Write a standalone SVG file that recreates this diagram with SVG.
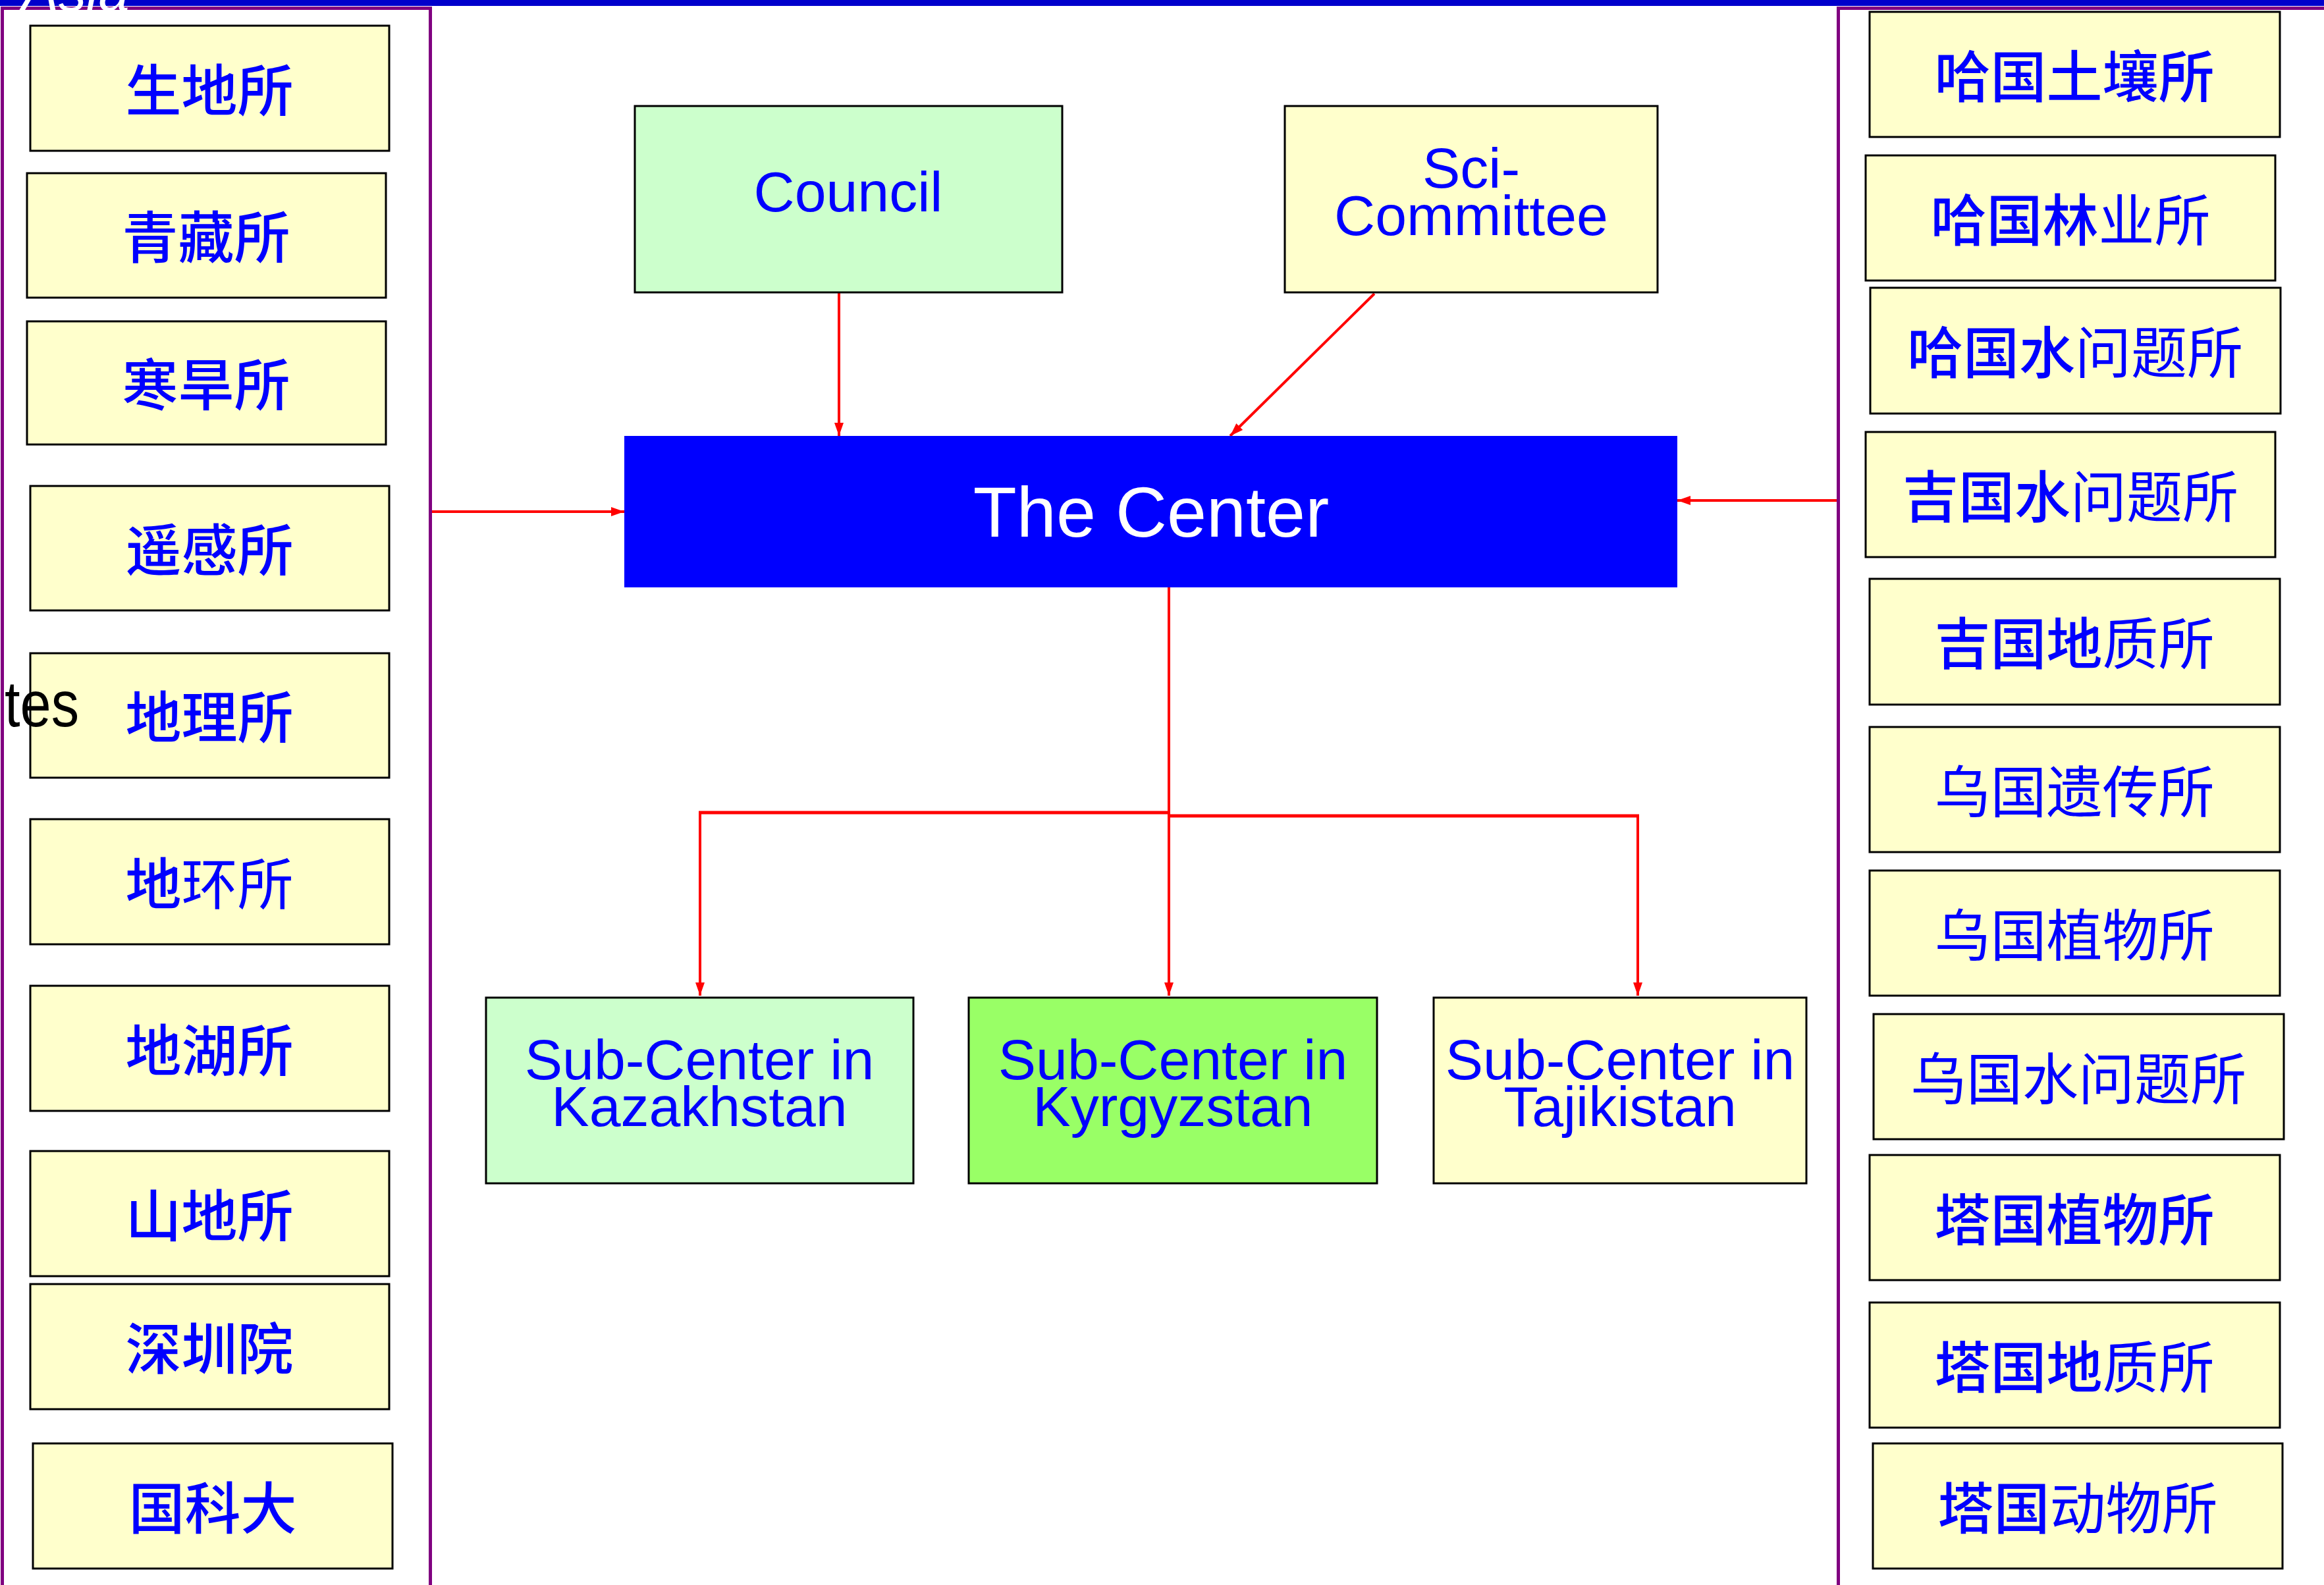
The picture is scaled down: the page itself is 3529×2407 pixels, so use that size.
<svg xmlns="http://www.w3.org/2000/svg" width="3529" height="2407" viewBox="0 0 3529 2407">
<style>
.bg{fill:#ffffff}
.band{fill:#0000CC}
.frame{fill:none;stroke:#800080;stroke-width:5}
.inst{fill:#FFFFCC;stroke:#000000;stroke-width:3}
.green{fill:#CCFFCC;stroke:#000000;stroke-width:3}
.lime{fill:#99FF66;stroke:#000000;stroke-width:3}
.center{fill:#0000FF}
.cjk{font-family:"Noto Sans CJK SC","Noto Sans CJK TC",sans-serif;font-size:85px;fill:#0000FF;text-anchor:middle}
.b{font-weight:500}
.n{font-weight:normal}
.lat{font-family:"Liberation Sans",Arial,sans-serif;font-size:86px;fill:#0000FF;text-anchor:middle}
.conn{stroke:#FF0000;stroke-width:4;fill:none}
.thick{stroke:#FF0000;stroke-width:5;fill:none}
</style>
<defs>
<marker id="ah" markerUnits="userSpaceOnUse" viewBox="0 0 20 14" refX="20" refY="7" markerWidth="20" markerHeight="14" orient="auto">
<path d="M0,0 L20,7 L0,14 z" fill="#FF0000"/>
</marker>
</defs>
<rect class="bg" x="0" y="0" width="3529" height="2407"/>
<rect class="band" x="0" y="0" width="3529" height="9"/>
<rect class="frame" x="3.5" y="12.5" width="650" height="2500"/>
<rect class="frame" x="2791.5" y="12.5" width="900" height="2500"/>
<text x="33" y="16" font-family="'Liberation Sans',Arial,sans-serif" font-style="italic" font-size="84" fill="#ffffff">Asia</text>

<g id="connectors">
<line class="conn" x1="1274" y1="444" x2="1274" y2="662" marker-end="url(#ah)"/>
<line class="conn" x1="2087" y1="446" x2="1868" y2="662" marker-end="url(#ah)"/>
<line class="conn" x1="656" y1="777" x2="948" y2="777" marker-end="url(#ah)"/>
<line class="conn" x1="2789" y1="760" x2="2547" y2="760" marker-end="url(#ah)"/>
<line class="conn" x1="1775" y1="892" x2="1775" y2="1512" marker-end="url(#ah)"/>
<line class="thick" x1="1775" y1="1234" x2="1061" y2="1234"/>
<line class="conn" x1="1063" y1="1232" x2="1063" y2="1512" marker-end="url(#ah)"/>
<line class="thick" x1="1775" y1="1239" x2="2489" y2="1239"/>
<line class="conn" x1="2487" y1="1237" x2="2487" y2="1512" marker-end="url(#ah)"/>
</g>

<g id="council"><rect class="green" x="964" y="161" width="649" height="283"/><text class="lat" x="1288" y="321">Council</text></g>
<g id="sci-committee"><rect class="inst" x="1951" y="161" width="566" height="283"/><text class="lat" x="2234" y="285">Sci-</text><text class="lat" x="2234" y="357">Committee</text></g>
<g id="the-center"><rect class="center" x="948" y="662" width="1599" height="230"/><text x="1748" y="815" font-family="'Liberation Sans',Arial,sans-serif" font-size="108" fill="#ffffff" text-anchor="middle">The Center</text></g>
<g id="sub-kazakhstan"><rect class="green" x="738" y="1515" width="649" height="282"/><text class="lat" x="1062" y="1639">Sub-Center in</text><text class="lat" x="1062" y="1710">Kazakhstan</text></g>
<g id="sub-kyrgyzstan"><rect class="lime" x="1471" y="1515" width="620" height="282"/><text class="lat" x="1781" y="1639">Sub-Center in</text><text class="lat" x="1781" y="1710">Kyrgyzstan</text></g>
<g id="sub-tajikistan"><rect class="inst" x="2177" y="1515" width="566" height="282"/><text class="lat" x="2460" y="1639">Sub-Center in</text><text class="lat" x="2460" y="1710">Tajikistan</text></g>

<g id="l1"><rect class="inst" x="46" y="39" width="545" height="190"/><text class="cjk b" x="318" y="169">生地所</text></g>
<g id="l2"><rect class="inst" x="41" y="263" width="545" height="189"/><text class="cjk b" x="313" y="392">青藏所</text></g>
<g id="l3"><rect class="inst" x="41" y="488" width="545" height="187"/><text class="cjk b" x="313" y="616">寒旱所</text></g>
<g id="l4"><rect class="inst" x="46" y="738" width="545" height="189"/><text class="cjk b" x="318" y="867">遥感所</text></g>
<g id="l5"><rect class="inst" x="46" y="992" width="545" height="189"/><text class="cjk b" x="318" y="1121">地理所</text></g>
<g id="l6"><rect class="inst" x="46" y="1244" width="545" height="190"/><text class="cjk" x="318" y="1374"><tspan class="b">地</tspan><tspan class="n">环所</tspan></text></g>
<g id="l7"><rect class="inst" x="46" y="1497" width="545" height="190"/><text class="cjk b" x="318" y="1627">地湖所</text></g>
<g id="l8"><rect class="inst" x="46" y="1748" width="545" height="190"/><text class="cjk b" x="318" y="1878">山地所</text></g>
<g id="l9"><rect class="inst" x="46" y="1950" width="545" height="190"/><text class="cjk b" x="318" y="2080">深圳院</text></g>
<g id="l10"><rect class="inst" x="50" y="2192" width="546" height="190"/><text class="cjk b" x="323" y="2322">国科大</text></g>

<g id="r1"><rect class="inst" x="2839" y="18" width="623" height="190"/><text class="cjk b" x="3150" y="148">哈国土壤所</text></g>
<g id="r2"><rect class="inst" x="2833" y="236" width="622" height="190"/><text class="cjk" x="3144" y="366"><tspan class="b">哈国林</tspan><tspan class="n">业所</tspan></text></g>
<g id="r3"><rect class="inst" x="2840" y="437" width="623" height="191"/><text class="cjk" x="3151" y="567"><tspan class="b">哈国水</tspan><tspan class="n">问题所</tspan></text></g>
<g id="r4"><rect class="inst" x="2833" y="656" width="622" height="190"/><text class="cjk" x="3144" y="786"><tspan class="b">吉国水</tspan><tspan class="n">问题所</tspan></text></g>
<g id="r5"><rect class="inst" x="2839" y="879" width="623" height="191"/><text class="cjk" x="3150" y="1009"><tspan class="b">吉国地</tspan><tspan class="n">质所</tspan></text></g>
<g id="r6"><rect class="inst" x="2839" y="1104" width="623" height="190"/><text class="cjk n" x="3150" y="1234">乌国遗传所</text></g>
<g id="r7"><rect class="inst" x="2839" y="1322" width="623" height="190"/><text class="cjk n" x="3150" y="1452">乌国植物所</text></g>
<g id="r8"><rect class="inst" x="2845" y="1540" width="623" height="190"/><text class="cjk n" x="3156" y="1670">乌国水问题所</text></g>
<g id="r9"><rect class="inst" x="2839" y="1754" width="623" height="190"/><text class="cjk b" x="3150" y="1884">塔国植物所</text></g>
<g id="r10"><rect class="inst" x="2839" y="1978" width="623" height="190"/><text class="cjk" x="3150" y="2108"><tspan class="b">塔国地</tspan><tspan class="n">质所</tspan></text></g>
<g id="r11"><rect class="inst" x="2844" y="2192" width="622" height="190"/><text class="cjk" x="3155" y="2322"><tspan class="b">塔国</tspan><tspan class="n">动物所</tspan></text></g>

<text x="7" y="1103" font-family="'Liberation Sans',Arial,sans-serif" font-size="98" fill="#000000" textLength="113" lengthAdjust="spacingAndGlyphs">tes</text>
</svg>
